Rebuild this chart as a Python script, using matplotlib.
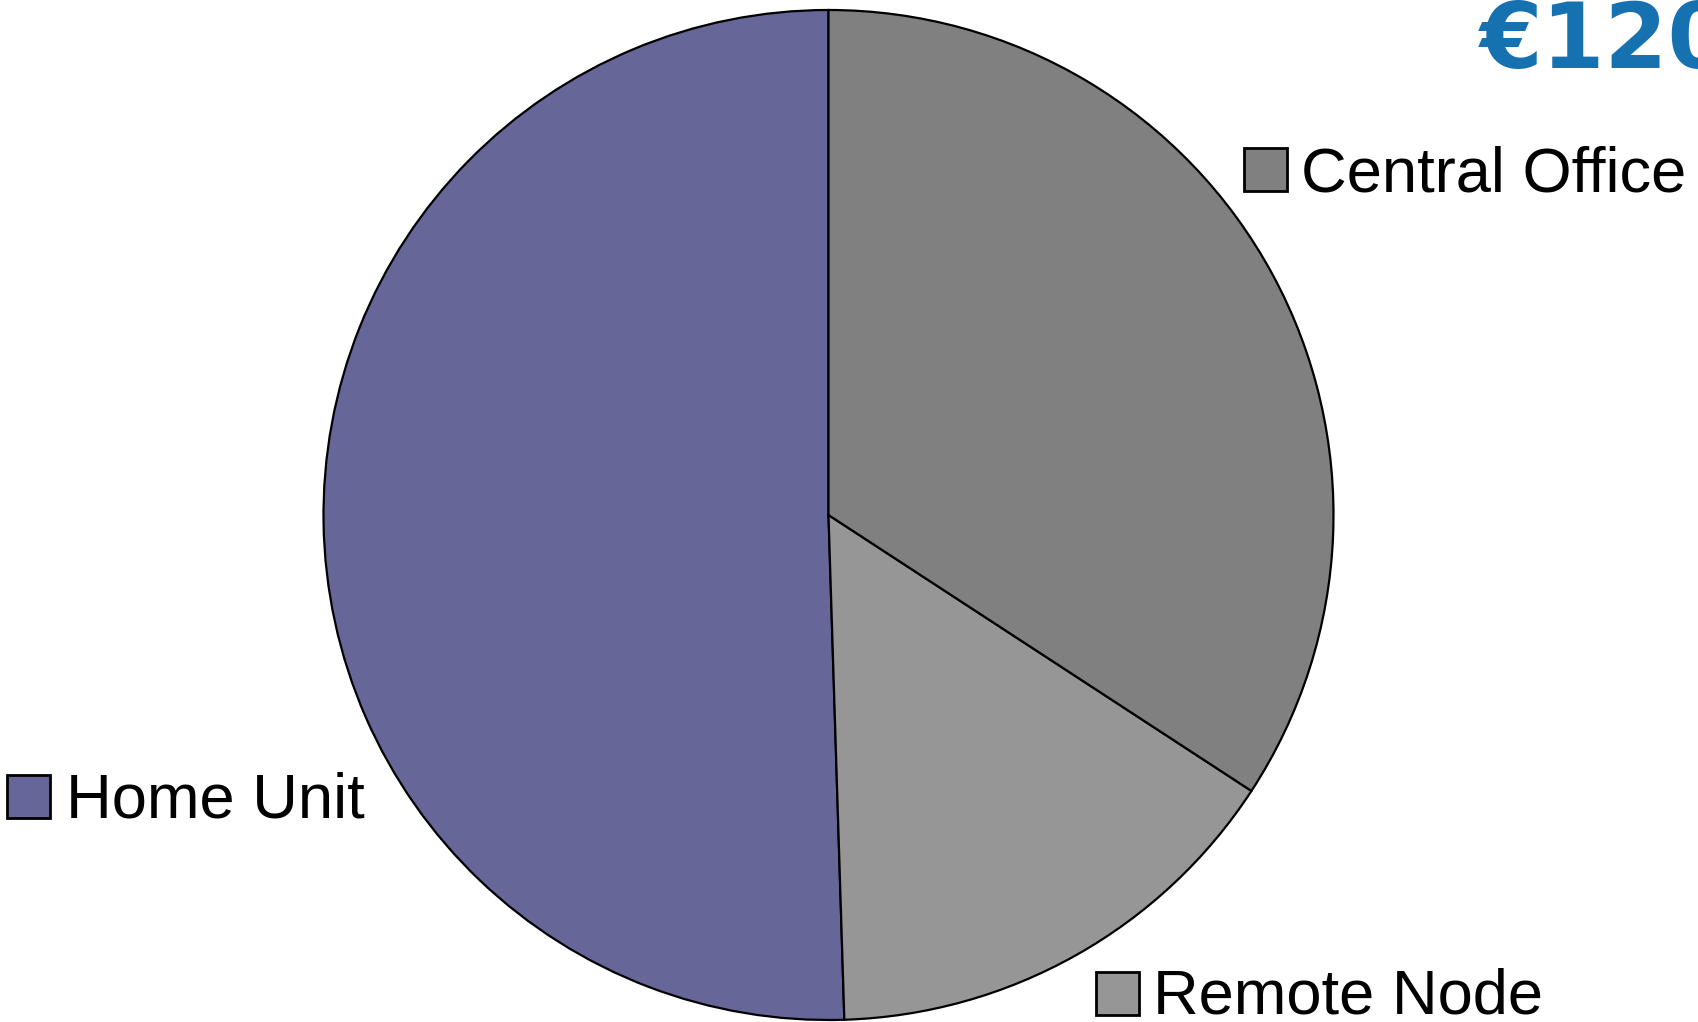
import matplotlib
matplotlib.use("Agg")
import matplotlib.pyplot as plt
from matplotlib.patches import Rectangle

# Data
labels = ["Home Unit", "Remote Node", "Central Office"]
shares = [50.5, 15.3, 34.2]
colors = ["#666699", "#969696", "#808080"]

W, H = 1699, 1022
fig = plt.figure(figsize=(W / 100, H / 100), dpi=100)
fig.patch.set_facecolor("white")
plt.rcParams["font.family"] = ["Liberation Sans", "DejaVu Sans"]

# pie: centre (828.5, 515) px from top-left, radius 505 px
cx, cy, r = 828.5, 515, 505
ax = fig.add_axes([(cx - r) / W, (H - cy - r) / H, 2 * r / W, 2 * r / H])
wedges, _ = ax.pie(shares, colors=colors, startangle=90, counterclock=True,
                   wedgeprops=dict(edgecolor="black", linewidth=1.6))
for w in wedges:
    w.set_clip_on(False)
ax.set_xlim(-1, 1)
ax.set_ylim(-1, 1)
ax.set_aspect("auto")
ax.axis("off")


def px(x, y):
    return x / W, 1 - y / H


# legend-style labels next to the pie: (box left, box top, text x, baseline)
label_pos = {
    "Home Unit": (7, 775, 66, 817),
    "Remote Node": (1096, 972, 1153, 1013),
    "Central Office": (1244, 148, 1301, 192),
}
for name, col in zip(labels, colors):
    bx, by, tx, ty = label_pos[name]
    x0, y0 = px(bx, by + 43)
    fig.patches.append(Rectangle((x0, y0), 43 / W, 43 / H, transform=fig.transFigure,
                                 facecolor=col, edgecolor="black", linewidth=2))
    fx, fy = px(tx, ty)
    fig.text(fx, fy, name, fontsize=45.5, va="baseline", ha="left", color="black")

# headline figure, wide bold digits running off the right edge
fx, fy = px(1480, 68)
fig.text(fx, fy, "€120", fontsize=65, fontweight="bold", color="#1671b0",
         family="DejaVu Sans", va="baseline", ha="left")

fig.savefig("out.png", dpi=100, facecolor="white")
